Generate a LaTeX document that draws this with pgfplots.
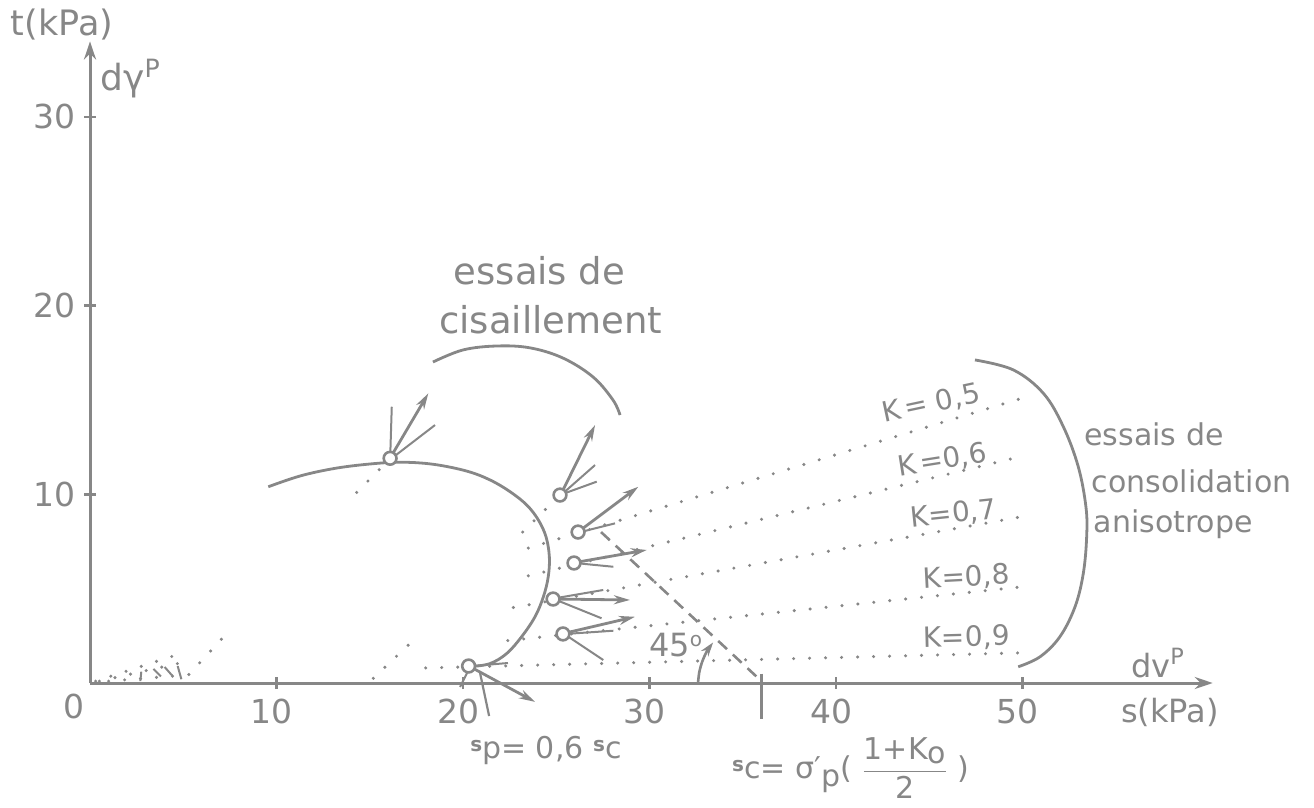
\documentclass[border=0pt]{standalone}
\usepackage{amsmath}
\usepackage{fontspec}
\setmainfont{DejaVu Sans}
\usepackage{pgfplots}
\pgfplotsset{compat=1.18}
\usetikzlibrary{arrows.meta}
\definecolor{ink}{RGB}{135,135,135}
\newcommand\sm[2]{\raisebox{3.5pt}{\fontsize{10}{10}\selectfont\bfseries #1}#2}
\begin{document}
\begin{tikzpicture}
\pgfplotsset{
  solidc/.style={ink, line width=1.4pt, smooth, tension=0.6},
  dots/.style={ink, line width=1.7pt, line cap=round, dash pattern=on 0pt off 8pt},
  arr/.style={ink, line width=1.4pt, -{Stealth[length=8pt,width=4.5pt]}},
  thinl/.style={ink, line width=1pt},
}
\begin{axis}[
  x=9.325pt, y=9.435pt,
  xmin=0, xmax=60.2, ymin=0, ymax=34,
  enlargelimits=false,
  axis lines=left,
  axis line style={ink, line width=1.5pt, -{Stealth[length=9pt,width=6pt]}},
  clip=false,
  xtick={10,20,30,40,50}, ytick={10,20,30},
  tick align=center, major tick length=6pt,
  tick style={ink, line width=1.2pt},
  /pgf/number format/assume math mode=true,
  ticklabel style={font=\fontsize{16.5}{18}\selectfont, text=ink, inner sep=0pt},
  xticklabel style={anchor=north, yshift=-5pt, xshift=-2.5pt},
  yticklabel style={anchor=east, xshift=-4pt},
]
% yield curve
\addplot[solidc] coordinates {(9.56,10.40)(11.26,10.97)(13.05,11.36)(14.84,11.59)(16.62,11.70)(18.41,11.59)(20.2,11.23)(21.45,10.76)(22.52,10.14)(23.42,9.43)(24.04,8.64)(24.45,7.75)(24.63,6.69)(24.57,5.63)(24.31,4.57)(23.86,3.51)(23.14,2.45)(22.34,1.56)(21.45,1.03)(20.5,0.88)};
% shear bracket
\addplot[solidc] coordinates {(18.39,17.01)(20.0,17.65)(21.83,17.86)(23.6,17.76)(25.36,17.22)(26.97,16.22)(28.04,15.0)(28.42,14.2)};
% consolidation bracket
\addplot[solidc] coordinates {(47.45,17.12)(49.51,16.59)(51.12,15.35)(52.19,13.58)(52.99,11.46)(53.4,9.34)(53.44,7.76)(53.26,5.81)(52.82,4.05)(52.01,2.46)(50.94,1.39)(49.77,0.86)};
% K lines
\addplot[dots] coordinates {(23.5,7.15)(50,15.1)};
\addplot[dots] coordinates {(23.5,5.68)(49.9,12.0)};
\addplot[dots] coordinates {(22.7,4.0)(49.9,8.8)};
\addplot[dots] coordinates {(22.4,2.25)(50,5.1)};
\addplot[dots] coordinates {(18.0,0.8)(50,1.6)};
% other dotted paths
\addplot[dots] coordinates {(23.2,8.0)(25.2,9.96)};
\addplot[dots] coordinates {(14.3,10.1)(16.1,11.9)};
\addplot[dots] coordinates {(15.19,0.25)(17.16,2.1)};
\addplot[dots] coordinates {(5.3,0.45)(7.42,2.72)};
\addplot[dots] coordinates {(0.3,0.1)(4.74,1.52)};
\addplot[dots] coordinates {(0.5,0.1)(4.74,1.04)};
\addplot[dots] coordinates {(1.0,0.1)(4.9,0.4)};
% tiny vectors near origin
\addplot[thinl] coordinates {(2.7,0.1)(2.75,0.6)};
\addplot[thinl] coordinates {(3.4,0.75)(3.8,0.35)};
\addplot[thinl] coordinates {(4.0,0.85)(4.4,0.4)};
\addplot[thinl] coordinates {(4.7,0.9)(4.9,0.2)};
% dashed 45 deg line
\addplot[ink, line width=1.3pt, dash pattern=on 6pt off 4pt] coordinates {(27.4,8.0)(36,0.1)};
% 45 arc
\addplot[ink, line width=1.3pt, smooth, -{Stealth[length=7pt,width=4.5pt]}] coordinates {(32.6,0)(32.67,0.58)(32.83,1.14)(33.07,1.67)(33.41,2.15)};
% s_c and s_p marks
\addplot[ink, line width=1.2pt] coordinates {(36,0.5)(36,-1.9)};
\addplot[ink, line width=1.1pt] coordinates {(20.9,0.6)(21.4,-1.75)};
% strain increment vectors
\addplot[arr] coordinates {(16.2,12.1)(18.14,15.35)};
\addplot[thinl] coordinates {(16.1,12.1)(16.18,14.64)};
\addplot[thinl] coordinates {(16.3,12.0)(18.5,13.67)};
\addplot[arr] coordinates {(25.3,10.1)(27.08,13.67)};
\addplot[thinl] coordinates {(25.3,10.0)(27.08,11.55)};
\addplot[thinl] coordinates {(25.3,10.0)(27.17,10.67)};
\addplot[arr] coordinates {(26.3,8.1)(29.4,10.4)};
\addplot[thinl] coordinates {(26.3,8.0)(28.15,8.46)};
\addplot[arr] coordinates {(26.1,6.4)(29.85,7.05)};
\addplot[thinl] coordinates {(26.1,6.35)(28.06,6.16)};
\addplot[arr] coordinates {(25.0,4.45)(28.95,4.4)};
\addplot[thinl] coordinates {(25.0,4.5)(27.52,4.93)};
\addplot[thinl] coordinates {(25.0,4.4)(27.43,3.43)};
\addplot[arr] coordinates {(25.5,2.65)(29.22,3.51)};
\addplot[thinl] coordinates {(25.5,2.6)(28.06,2.77)};
\addplot[thinl] coordinates {(25.5,2.55)(27.52,1.22)};
\addplot[arr] coordinates {(20.5,0.8)(23.86,-1.0)};
\addplot[thinl] coordinates {(20.5,0.9)(22.41,1.06)};
\addplot[thinl] coordinates {(20.3,0.7)(19.84,-0.21)};
% data points
\addplot[only marks, mark=*, mark size=3.2pt, mark options={draw=ink, fill=white, line width=1.3pt}] coordinates {(16.09,11.91)(25.2,9.96)(26.17,8.0)(25.95,6.36)(24.83,4.45)(25.36,2.6)(20.3,0.9)};
% texts
\node[text=ink, font=\fontsize{16.5}{18}\selectfont] at (axis cs:-0.86,-1.25) {0};
\node[text=ink, font=\fontsize{17.5}{18}\selectfont] at (axis cs:-1.5,34.9) {t(kPa)};
\node[text=ink, font=\fontsize{18}{18}\selectfont, anchor=base west, inner sep=0pt] at (axis cs:0.54,31.4) {dγ\textsuperscript{P}};
\node[text=ink, font=\fontsize{16}{18}\selectfont, anchor=base west, inner sep=0pt] at (axis cs:55.8,0.3) {dv\textsuperscript{P}};
\node[text=ink, font=\fontsize{16}{18}\selectfont] at (axis cs:57.9,-1.54) {s(kPa)};
\node[text=ink, font=\fontsize{18.5}{20}\selectfont, anchor=base] at (axis cs:24.1,21.1) {essais de};
\node[text=ink, font=\fontsize{18.5}{20}\selectfont, anchor=base] at (axis cs:24.7,18.5) {cisaillement};
\node[text=ink, font=\fontsize{15}{18}\selectfont, anchor=base west, inner sep=0pt] at (axis cs:53.3,12.6) {essais de};
\node[text=ink, font=\fontsize{15}{18}\selectfont, anchor=base west, inner sep=0pt] at (axis cs:53.7,10.07) {consolidation};
\node[text=ink, font=\fontsize{15}{18}\selectfont, anchor=base west, inner sep=0pt] at (axis cs:53.8,7.95) {anisotrope};
\node[text=ink, font=\fontsize{14}{16}\selectfont, rotate=12, inner sep=0pt] at (axis cs:45.1,14.8) {K\kern2pt= 0,5};
\node[text=ink, font=\fontsize{14}{16}\selectfont, rotate=9, inner sep=0pt] at (axis cs:45.7,11.8) {K\kern2pt=0,6};
\node[text=ink, font=\fontsize{14}{16}\selectfont, rotate=6, inner sep=0pt] at (axis cs:46.3,8.95) {K=0,7};
\node[text=ink, font=\fontsize{14}{16}\selectfont, rotate=3, inner sep=0pt] at (axis cs:47.0,5.6) {K=0,8};
\node[text=ink, font=\fontsize{14}{16}\selectfont, rotate=1.5, inner sep=0pt] at (axis cs:47.0,2.4) {K=0,9};
\node[text=ink, font=\fontsize{16}{18}\selectfont] at (axis cs:31.4,2.0) {45\raisebox{5pt}{\fontsize{10}{10}\selectfont o}};
\node[text=ink, font=\fontsize{15}{18}\selectfont] at (axis cs:24.45,-3.55) {\sm{s}{p}= 0,6 \sm{s}{c}};
\node[text=ink, font=\fontsize{15}{18}\selectfont] at (axis cs:40.8,-4.5) {\sm{s}{c}= σ′\raisebox{-4pt}{p}( $\dfrac{\text{1+K\raisebox{-2pt}{o}}}{\text{2}}$ )};
\coordinate (BL) at (axis cs:-4.826,-6.571);
\coordinate (TR) at (axis cs:65.63,36.195);
\end{axis}
\pgfresetboundingbox
\path[use as bounding box] (BL) rectangle (TR);
\end{tikzpicture}
\end{document}
